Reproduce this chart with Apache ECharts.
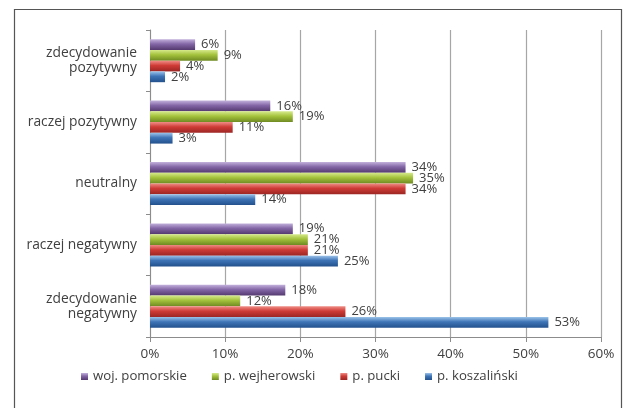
<!DOCTYPE html>
<html><head><meta charset="utf-8">
<script src="https://cdn.jsdelivr.net/npm/echarts@6/dist/echarts.min.js"></script>
<style>html,body{margin:0;padding:0;background:#fff}#c{width:626px;height:408px}</style>
</head><body><div id="c"></div>
<script>
// categories bottom -> top (ECharts category axis order)
const categories = ['zdecydowanie\nnegatywny', 'raczej negatywny', 'neutralny', 'raczej pozytywny', 'zdecydowanie\npozytywny'];
const pomorskie = [18, 19, 34, 16, 6];
const wejherowski = [12, 21, 35, 19, 9];
const pucki = [26, 21, 34, 11, 4];
const koszalinski = [53, 25, 14, 3, 2];
const xTicks = [0, 10, 20, 30, 40, 50, 60];

const FONT = 'Open Sans';
function grad(top, mid, bot) {
  return new echarts.graphic.LinearGradient(0, 0, 0, 1, [
    {offset: 0, color: top}, {offset: 0.45, color: mid}, {offset: 1, color: bot}
  ]);
}
const seriesDefs = [
  {name: 'woj. pomorskie', data: pomorskie, c: grad('#C3B1DC', '#8366A6', '#54396F')},
  {name: 'p. wejherowski', data: wejherowski, c: grad('#D6EA8C', '#A4C23C', '#6F8A22')},
  {name: 'p. pucki', data: pucki, c: grad('#F08C86', '#CF3B36', '#9B2624')},
  {name: 'p. koszaliński', data: koszalinski, c: grad('#9CC3EA', '#3E74B6', '#23518D')}
];

const chart = echarts.init(document.getElementById('c'));
chart.setOption({
  animation: false,
  backgroundColor: '#fff',
  graphic: [{type: 'rect', shape: {x: 14.5, y: 9.5, width: 607, height: 410}, style: {fill: 'none', stroke: '#555', lineWidth: 1.2}, silent: true}],
  grid: {left: 150, right: 25, top: 30, bottom: 71, containLabel: false},
  legend: {
    bottom: 20, left: 76, itemWidth: 7, itemHeight: 7, itemGap: 25, icon: 'rect',
    data: ['woj. pomorskie', 'p. wejherowski', 'p. pucki', 'p. koszaliński'],
    textStyle: {fontFamily: FONT, fontSize: 13.2, color: '#404040'}
  },
  xAxis: {
    type: 'value', min: 0, max: xTicks[xTicks.length - 1], interval: 10,
    axisLine: {show: true, lineStyle: {color: '#8c8c8c'}},
    axisTick: {show: true, length: 5, lineStyle: {color: '#8c8c8c'}},
    splitLine: {show: true, lineStyle: {color: '#a6a6a6', width: 1.2}},
    axisLabel: {formatter: v => v + '%', fontFamily: FONT, fontSize: 13.5, color: '#404040', margin: 10}
  },
  yAxis: {
    type: 'category', data: categories,
    axisLine: {show: true, lineStyle: {color: '#8c8c8c'}},
    axisTick: {show: true, length: 4, lineStyle: {color: '#8c8c8c'}},
    axisLabel: {fontFamily: FONT, fontSize: 13.8, color: '#404040', margin: 13, align: 'right', lineHeight: 15}
  },
  series: seriesDefs.map(s => ({
    name: s.name, type: 'bar', data: s.data,
    barGap: '0%', barCategoryGap: '30%',
    itemStyle: {color: s.c},
    label: {show: true, position: 'right', distance: 6, formatter: p => p.value + '%', fontFamily: FONT, fontSize: 13, color: '#404040'}
  }))
});
</script></body></html>
